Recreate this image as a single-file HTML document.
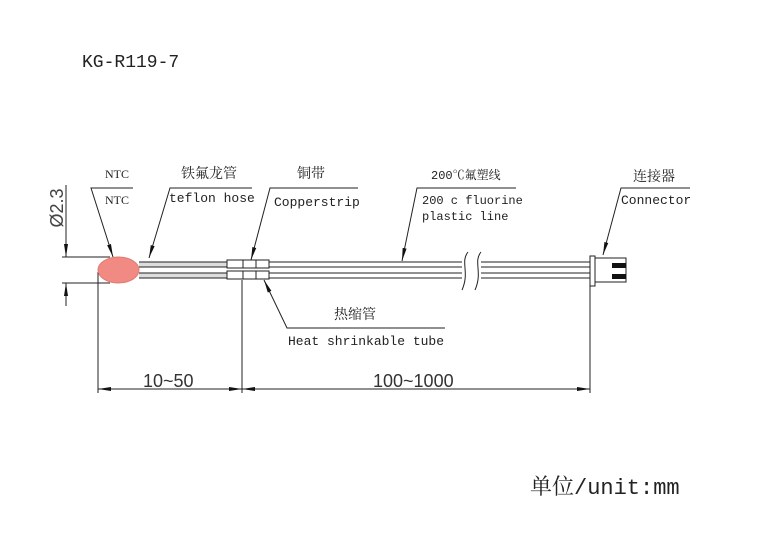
<!DOCTYPE html>
<html><head><meta charset="utf-8"><style>
html,body{margin:0;padding:0;background:#fff;}
svg{display:block;}
text{font-family:"Liberation Mono","Noto Serif CJK SC",monospace;fill:#222;}
.s{font-family:"Liberation Serif","Noto Serif CJK SC",serif;}
</style></head><body>
<svg width="769" height="542" viewBox="0 0 769 542" xmlns="http://www.w3.org/2000/svg">
<defs>
<marker id="a" viewBox="0 0 10 10" refX="10" refY="5" markerWidth="13" markerHeight="5" orient="auto-start-reverse" markerUnits="userSpaceOnUse" preserveAspectRatio="none"><path d="M0,1 L10,5 L0,9 z" fill="#111"/></marker>
</defs>
<g stroke="#222" stroke-width="1" fill="none">
<line x1="62" y1="257" x2="110" y2="257"/>
<line x1="62" y1="283" x2="110" y2="283"/>
<line x1="66" y1="185" x2="66" y2="257" marker-end="url(#a)"/>
<line x1="66" y1="306" x2="66" y2="283" marker-end="url(#a)"/>
<line x1="139" y1="262" x2="462" y2="262"/><line x1="139" y1="267" x2="462" y2="267"/>
<line x1="139" y1="273" x2="462" y2="273"/><line x1="139" y1="278" x2="462" y2="278"/>
<line x1="481" y1="262" x2="590" y2="262"/><line x1="481" y1="267" x2="590" y2="267"/>
<line x1="481" y1="273" x2="590" y2="273"/><line x1="481" y1="278" x2="590" y2="278"/>
<rect x="139" y="262.5" width="88" height="4" fill="#ddd" stroke="none"/>
<rect x="139" y="273.5" width="88" height="4" fill="#ddd" stroke="none"/>
<path d="M468,252 C460,262 470,272 462,290"/>
<path d="M481,252 C473,262 483,272 475,290"/>
<rect x="227" y="260" width="42" height="8" fill="#fff"/>
<rect x="227" y="271" width="42" height="8" fill="#fff"/>
<line x1="243" y1="260" x2="243" y2="268"/><line x1="256" y1="260" x2="256" y2="268"/>
<line x1="243" y1="271" x2="243" y2="279"/><line x1="256" y1="271" x2="256" y2="279"/>
<rect x="590" y="256" width="5" height="30" fill="#fff"/>
<rect x="595" y="258" width="31" height="24" fill="#fff"/>
<polyline points="133,188 91,188 113,257" marker-end="url(#a)"/>
<polyline points="252,188 170,188 149,258" marker-end="url(#a)"/>
<polyline points="358,188 270,188 251,260" marker-end="url(#a)"/>
<polyline points="445,328 287,328 264,280" marker-end="url(#a)"/>
<polyline points="516,188 417,188 402,261" marker-end="url(#a)"/>
<polyline points="690,188 621,188 603,255" marker-end="url(#a)"/>
<line x1="98" y1="272" x2="98" y2="393"/>
<line x1="242" y1="280" x2="242" y2="393"/>
<line x1="590" y1="286" x2="590" y2="393"/>
<line x1="98" y1="389" x2="242" y2="389" marker-start="url(#a)" marker-end="url(#a)"/>
<line x1="242" y1="389" x2="590" y2="389" marker-start="url(#a)" marker-end="url(#a)"/>
</g>
<rect x="612" y="263" width="14" height="5" fill="#111"/>
<rect x="612" y="274" width="14" height="5" fill="#111"/>
<ellipse cx="118.5" cy="270" rx="20.5" ry="13" fill="#f08a82" stroke="#e07a72" stroke-width="1"/>
<text x="82" y="67" font-size="18">KG-R119-7</text>
<text x="530" y="494" font-size="22">单位/unit:mm</text>
<text x="63" y="208" font-size="18" transform="rotate(-90 63 208)" text-anchor="middle" style="font-family:'Liberation Sans',sans-serif;fill:#444;font-weight:300">Ø2.3</text>
<text class="s" x="105" y="178" font-size="12">NTC</text>
<text class="s" x="105" y="204" font-size="12">NTC</text>
<text x="181" y="178" font-size="14">铁氟龙管</text>
<text x="169" y="202" font-size="13">teflon hose</text>
<text x="297" y="178" font-size="14">铜带</text>
<text x="274" y="206" font-size="13">Copperstrip</text>
<text x="431" y="179" font-size="12">200℃氟塑线</text>
<text x="422" y="204" font-size="12">200 c fluorine</text>
<text x="422" y="220" font-size="12">plastic line</text>
<text x="633" y="181" font-size="14">连接器</text>
<text x="621" y="204" font-size="13">Connector</text>
<text x="334" y="319" font-size="14">热缩管</text>
<text x="288" y="345" font-size="13">Heat shrinkable tube</text>
<text x="143" y="387" font-size="18" style="font-family:'Liberation Sans',sans-serif;fill:#333">10~50</text>
<text x="373" y="387" font-size="18" style="font-family:'Liberation Sans',sans-serif;fill:#333">100~1000</text>
</svg>
</body></html>
